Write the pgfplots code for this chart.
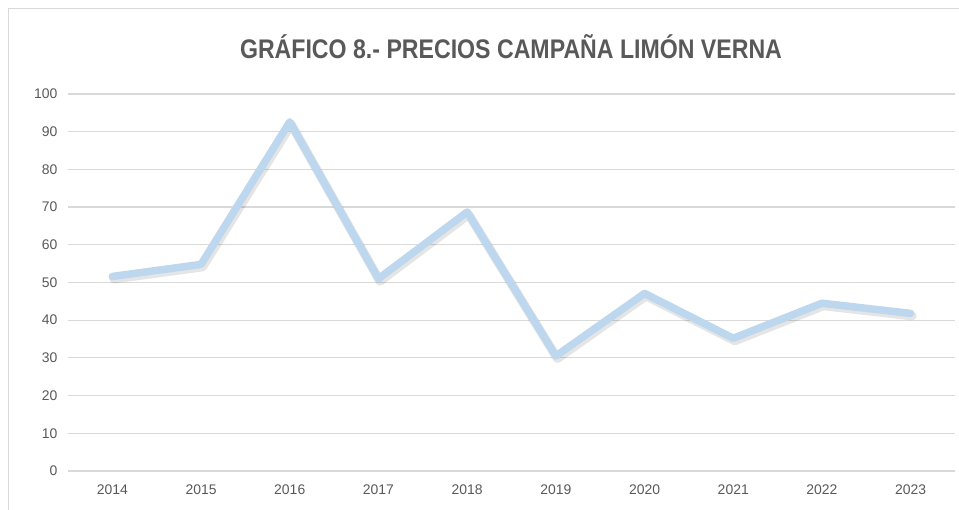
\documentclass[border=0pt]{standalone}
\usepackage{pgfplots}
\pgfplotsset{compat=1.18}
\usepackage{fontspec}
\setmainfont{Liberation Sans}
\definecolor{linec}{HTML}{BDD7EE}
\definecolor{gridc}{HTML}{D9D9D9}
\definecolor{txtc}{HTML}{595959}
\definecolor{framec}{HTML}{D9D9D9}
\begin{document}
\begin{tikzpicture}[x=1bp,y=1bp]
\useasboundingbox (0,0) rectangle (959,510);
\draw[framec, line width=1.2bp] (8.5,-5) -- (8.5,501.5) -- (970,501.5);
\node[txtc, font=\bfseries\fontsize{27}{31}\selectfont] at (511,463) {\scalebox{0.86}[1]{GRÁFICO 8.- PRECIOS CAMPAÑA LIMÓN VERNA}};
\begin{axis}[
  at={(68bp,39bp)}, anchor=south west,
  scale only axis, width=887bp, height=377bp,
  xmin=-0.5, xmax=9.5, ymin=0, ymax=100,
  axis line style={draw=none},
  ytick={0,10,...,100},
  xtick={0,...,9},
  xticklabels={2014,2015,2016,2017,2018,2019,2020,2021,2022,2023},
  ymajorgrids, grid style={gridc, line width=1.2bp},
  tick style={draw=none},
  ticklabel style={txtc, font=\fontsize{14}{16}\selectfont},
  /pgf/number format/assume math mode=true,
  yticklabel style={xshift=-7bp},
  xticklabel style={yshift=-10bp},
  clip=false,
]
\addplot[black, opacity=0.10, line width=9bp, line join=round, line cap=round, shift={(1.5bp,-2.5bp)}] coordinates {
(0,51.6)(1,54.8)(2,92.6)(3,51.0)(4,68.7)(5,30.5)(6,47.1)(7,35.2)(8,44.5)(9,41.8)};
\addplot[linec, line width=7.5bp, line join=round, line cap=round] coordinates {
(0,51.6)(1,54.8)(2,92.6)(3,51.0)(4,68.7)(5,30.5)(6,47.1)(7,35.2)(8,44.5)(9,41.8)};
\end{axis}
\end{tikzpicture}
\end{document}
